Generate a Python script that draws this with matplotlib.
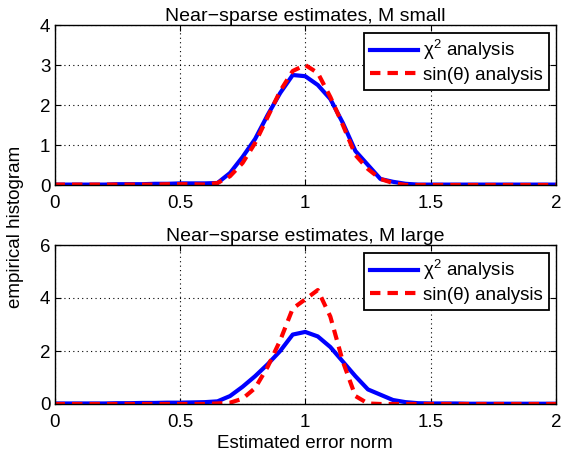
import matplotlib
matplotlib.use("Agg")
import matplotlib.pyplot as plt
import numpy as np

plt.rcParams['font.family'] = ['Liberation Sans', 'DejaVu Sans']
plt.rcParams['mathtext.fontset'] = 'custom'
plt.rcParams['mathtext.rm'] = 'Liberation Sans'
plt.rcParams['mathtext.it'] = 'Liberation Sans'

x = np.round(np.arange(0, 2.0001, 0.05), 2)

# top panel (M small)
chi_small = [0.01, 0.01, 0.01, 0.01, 0.01, 0.02, 0.02, 0.02, 0.03, 0.03,
             0.04, 0.04, 0.04, 0.05, 0.3, 0.7, 1.15, 1.75, 2.3, 2.75,
             2.72, 2.5, 2.15, 1.55, 0.85, 0.5, 0.15, 0.08, 0.03, 0.01,
             0.01, 0.01, 0.01, 0.01, 0.01, 0.01, 0.01, 0.01, 0.01, 0.01, 0.01]
sin_small = [0.01, 0.01, 0.01, 0.01, 0.01, 0.01, 0.01, 0.01, 0.01, 0.02,
             0.02, 0.02, 0.01, 0.05, 0.22, 0.55, 1.05, 1.7, 2.35, 2.85,
             3.0, 2.8, 2.2, 1.5, 0.75, 0.4, 0.15, 0.05, 0.0, 0.0,
             0.0, 0.0, 0.0, 0.0, 0.0, 0.0, 0.0, 0.0, 0.0, 0.0, 0.0]

# bottom panel (M large)
chi_large = [0.02, 0.02, 0.02, 0.02, 0.02, 0.03, 0.03, 0.04, 0.04, 0.05,
             0.05, 0.06, 0.07, 0.1, 0.3, 0.65, 1.05, 1.5, 2.0, 2.62,
             2.72, 2.55, 2.15, 1.6, 1.05, 0.55, 0.35, 0.15, 0.07, 0.03,
             0.02, 0.02, 0.02, 0.01, 0.01, 0.01, 0.01, 0.01, 0.01, 0.01, 0.01]
sin_large = [0.0, 0.0, 0.0, 0.0, 0.0, 0.0, 0.0, 0.0, 0.0, 0.0,
             0.0, 0.0, 0.0, 0.02, 0.05, 0.2, 0.6, 1.4, 2.4, 3.6,
             3.95, 4.3, 3.3, 1.6, 0.3, 0.02, 0.0, 0.0, 0.0, 0.0,
             0.0, 0.0, 0.0, 0.0, 0.0, 0.0, 0.0, 0.0, 0.0, 0.0, 0.0]

titles = ["Near\u2212sparse estimates, M small", "Near\u2212sparse estimates, M large"]
ylims = [(0, 4), (0, 6)]
yticks = [[0, 1, 2, 3, 4], [0, 2, 4, 6]]
xticks = [0, 0.5, 1, 1.5, 2]
xticklabels = ["0", "0.5", "1", "1.5", "2"]
labels = ["\u03c7$^2$ analysis", "sin(\u03b8) analysis"]

W, H = 567, 453
fig = plt.figure(figsize=(W / 100, H / 100), dpi=100)

def ax_rect(l, r, t, b):
    return [l / W, 1 - b / H, (r - l) / W, (b - t) / H]

axes = [fig.add_axes(ax_rect(54.5, 556, 25, 185)),
        fig.add_axes(ax_rect(54.5, 556, 245, 404))]
data = [(chi_small, sin_small), (chi_large, sin_large)]

fs = 13.5
for ax, (c, s), title, yl, yt in zip(axes, data, titles, ylims, yticks):
    ax.plot(x, c, color='#0000ff', lw=3.0, label=labels[0])
    ax.plot(x, s, color='#ff0000', lw=3.0, ls=(0, (2.5, 1.7)), label=labels[1])
    ax.set_xlim(0, 2)
    ax.set_ylim(*yl)
    ax.set_xticks(xticks)
    ax.set_xticklabels(xticklabels)
    ax.set_yticks(yt)
    ax.tick_params(direction='in', top=True, right=True, labelsize=fs,
                   length=4, width=0.8)
    ax.tick_params(axis='x', pad=7)
    ax.tick_params(axis='y', pad=3)
    ax.grid(True, color='black', ls=(0, (1, 3)), lw=0.8)
    for sp in ax.spines.values():
        sp.set_linewidth(1.0)
    ax.set_title(title, fontsize=14, pad=3)
    leg = ax.legend(loc='upper right', fontsize=fs, fancybox=False,
                    framealpha=1, edgecolor='black', borderaxespad=0.4,
                    handlelength=2.6, handletextpad=0.25, labelspacing=0.25,
                    borderpad=0.3)
    leg.get_frame().set_linewidth(1.3)

axes[1].set_xlabel("Estimated error norm", fontsize=fs, labelpad=3)
fig.text(16 / W, 0.5, "empirical histogram", rotation=90, fontsize=fs,
         va='center', ha='center')

fig.savefig("out.png", dpi=100)
